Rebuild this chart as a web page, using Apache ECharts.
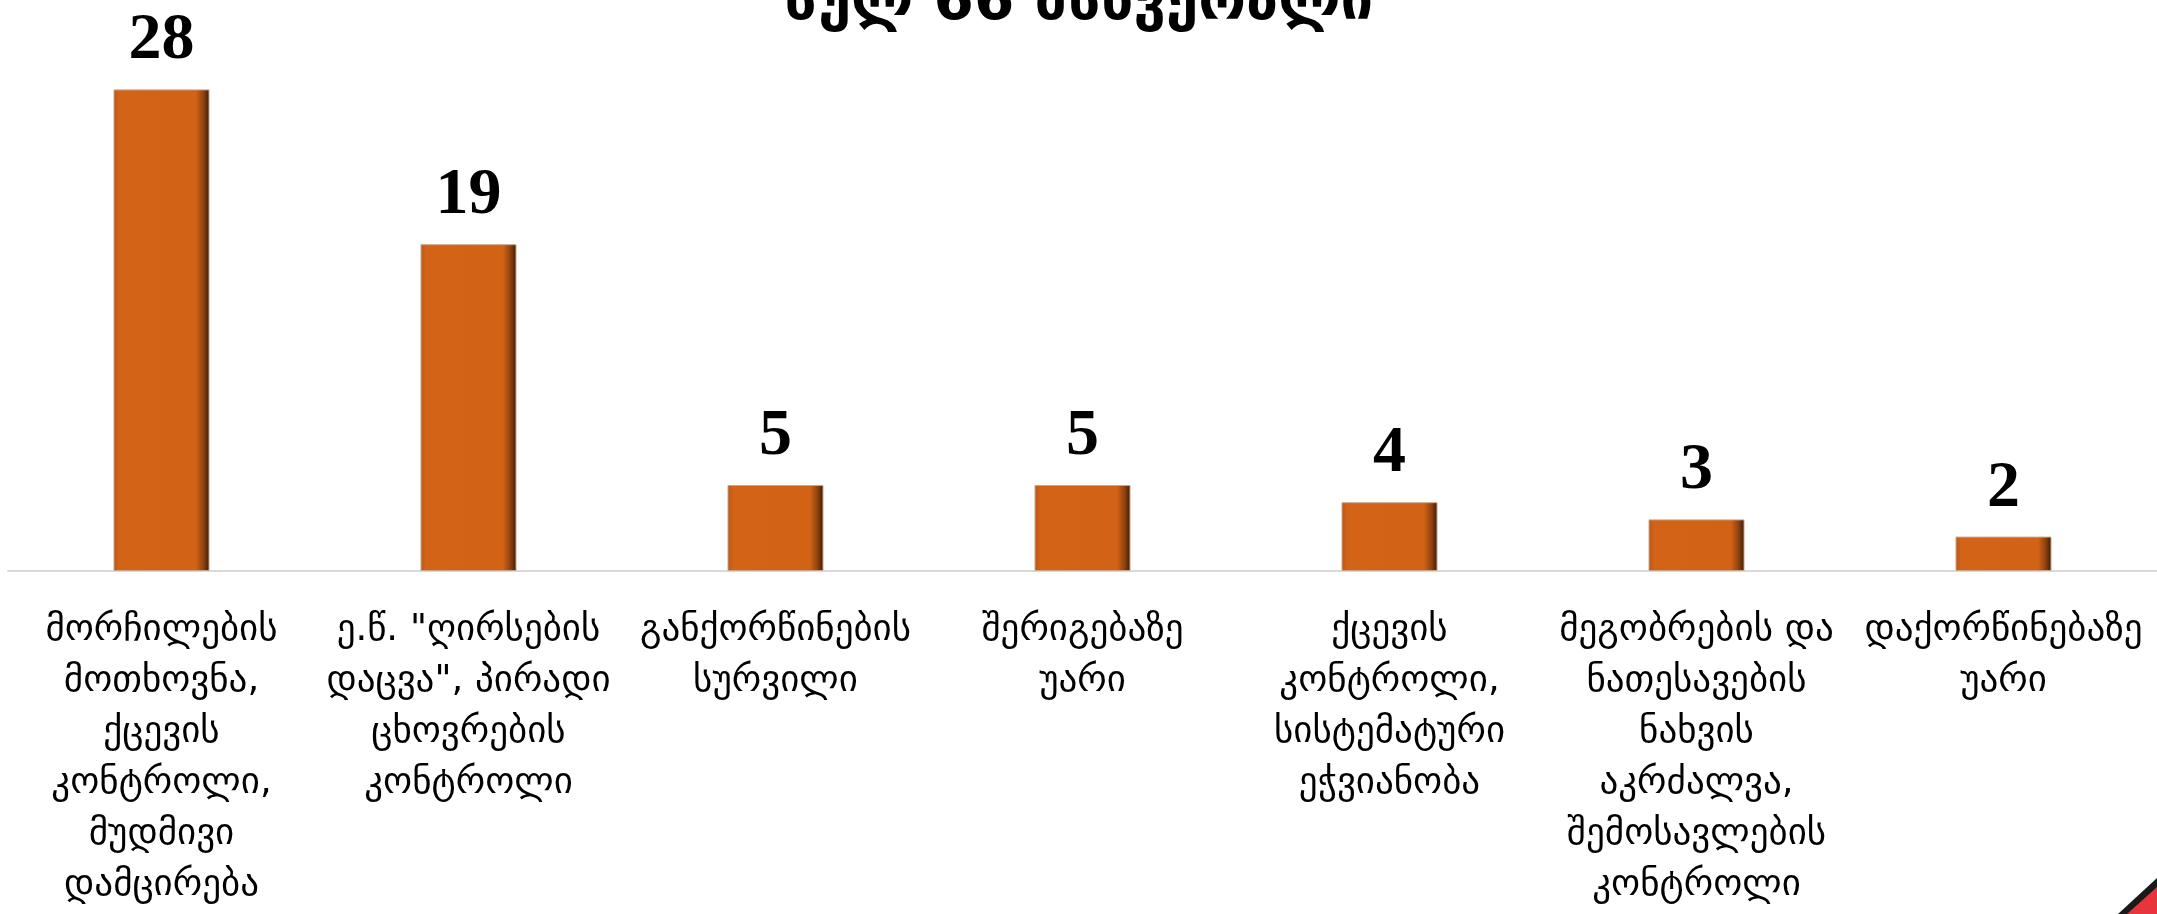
<!DOCTYPE html>
<html>
<head>
<meta charset="utf-8">
<script src="https://cdn.jsdelivr.net/npm/echarts@6/dist/echarts.min.js"></script>
<style>
html,body{margin:0;padding:0;background:#fff;}
#chart{width:2157px;height:914px;}
</style>
</head>
<body>
<div id="chart"></div>
<script>
const titleText = 'სულ 66 მსხვერპლი';
const categories = [
  'მორჩილების\nმოთხოვნა,\nქცევის\nკონტროლი,\nმუდმივი\nდამცირება',
  'ე.წ. "ღირსების\nდაცვა", პირადი\nცხოვრების\nკონტროლი',
  'განქორწინების\nსურვილი',
  'შერიგებაზე\nუარი',
  'ქცევის\nკონტროლი,\nსისტემატური\nეჭვიანობა',
  'მეგობრების და\nნათესავების\nნახვის\nაკრძალვა,\nშემოსავლების\nკონტროლი',
  'დაქორწინებაზე\nუარი'
];
const values = [28, 19, 5, 5, 4, 3, 2];

const chart = echarts.init(document.getElementById('chart'));
chart.setOption({
  backgroundColor: '#ffffff',
  animation: false,
  title: {
    text: titleText,
    left: 'center',
    top: -30,
    textStyle: { fontFamily: 'DejaVu Sans', fontWeight: 'bold', fontSize: 58, color: '#000' }
  },
  grid: { left: 8, width: 2152, top: 55, height: 516, containLabel: false },
  xAxis: {
    type: 'category',
    data: categories,
    axisLine: { show: true, lineStyle: { color: '#d9d9d9', width: 2 } },
    axisTick: { show: false },
    axisLabel: {
      interval: 0,
      margin: 34,
      fontFamily: 'DejaVu Sans',
      fontSize: 37,
      lineHeight: 51,
      color: '#000',
      align: 'center'
    }
  },
  yAxis: { type: 'value', min: 0, max: 30, show: false, splitLine: { show: false } },
  series: [{
    type: 'bar',
    data: values,
    barWidth: 96,
    itemStyle: {
      color: new echarts.graphic.LinearGradient(0, 0, 1, 0, [
        { offset: 0, color: '#b9561a' },
        { offset: 0.06, color: '#d36417' },
        { offset: 0.86, color: '#d26216' },
        { offset: 0.94, color: '#8c410f' },
        { offset: 1, color: '#3a1a06' }
      ]),
      borderColor: '#c9a48a',
      borderWidth: 1
    },
    label: {
      show: true,
      position: 'top',
      distance: 15,
      fontFamily: 'Liberation Serif',
      fontWeight: 'bold',
      fontSize: 66,
      color: '#000'
    }
  }],
  graphic: [
    { type: 'polygon', shape: { points: [[2118, 914], [2157, 878], [2157, 914]] }, style: { fill: '#1a1a1a' } },
    { type: 'polygon', shape: { points: [[2127, 914], [2157, 887], [2157, 914]] }, style: { fill: '#e8343c' } }
  ]
});
</script>
</body>
</html>
